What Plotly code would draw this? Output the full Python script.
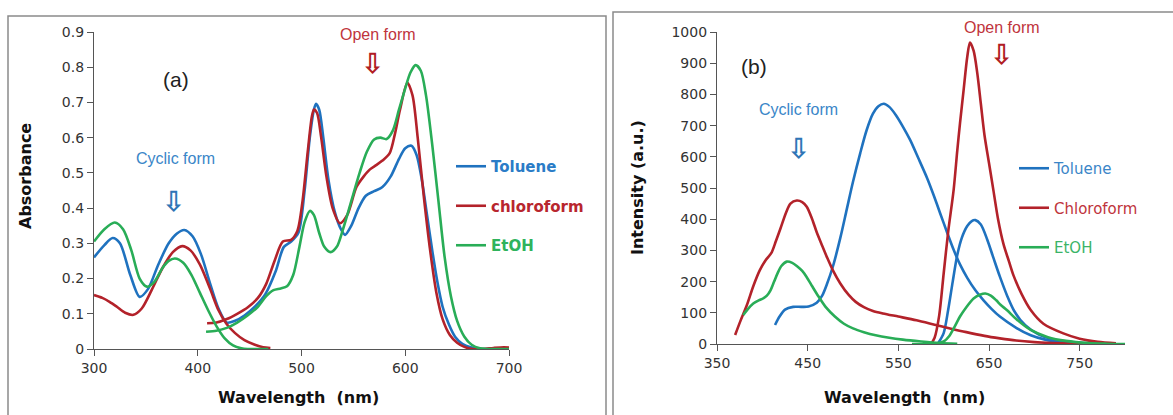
import plotly.graph_objects as go

# ---------------- Panel (a): absorbance ----------------
tol_a_x = [300,310,318,325,335,344,352,362,372,380,387,395,403,412,420,428,436,445,455,465,475,483,490,497,503,508,512,514,517,521,526,532,538,542,548,555,562,570,578,586,594,600,606,611,616,621,626,631,636,642,648,655,663,672,680,690,700]
tol_a_y = [0.26,0.295,0.315,0.30,0.21,0.148,0.17,0.24,0.30,0.328,0.338,0.32,0.27,0.185,0.115,0.075,0.08,0.095,0.12,0.155,0.22,0.29,0.305,0.33,0.45,0.60,0.68,0.696,0.68,0.60,0.48,0.39,0.34,0.324,0.35,0.40,0.435,0.448,0.46,0.49,0.54,0.57,0.577,0.55,0.48,0.38,0.28,0.19,0.12,0.07,0.035,0.015,0.005,0.0,0.0,0.002,0.0]

chl_uv_x = [300,308,315,322,330,338,346,356,366,376,385,393,402,412,420,428,436,445,455,463,470]
chl_uv_y = [0.153,0.145,0.134,0.12,0.103,0.097,0.115,0.17,0.23,0.275,0.292,0.28,0.24,0.17,0.11,0.07,0.045,0.025,0.012,0.005,0.003]
chl_vis_x = [409,418,428,438,448,458,466,474,482,490,496,501,506,510,512,515,519,524,530,537,544,553,560,566,572,578,585,590,595,602,607,612,618,624,630,636,643,650,657,665,675,685,695,700]
chl_vis_y = [0.073,0.075,0.085,0.10,0.118,0.145,0.185,0.25,0.305,0.31,0.335,0.42,0.56,0.66,0.68,0.67,0.60,0.49,0.40,0.357,0.38,0.46,0.49,0.51,0.522,0.535,0.556,0.61,0.68,0.756,0.72,0.60,0.43,0.28,0.16,0.085,0.04,0.018,0.006,0.0,0.0,0.003,0.005,0.004]

eth_uv_x = [300,310,320,328,336,344,351,358,366,372,378,386,394,402,410,418,426,434,442,448,460,468]
eth_uv_y = [0.305,0.34,0.359,0.34,0.28,0.20,0.177,0.19,0.23,0.25,0.257,0.245,0.21,0.16,0.11,0.065,0.03,0.01,0.002,0.0,0.0,0.0]
eth_vis_x = [408,418,428,438,448,458,466,473,480,486,492,498,503,508,512,517,522,528,534,540,548,556,563,570,576,582,588,594,600,605,610,615,620,626,632,638,644,650,657,664,672,680,690,700]
eth_vis_y = [0.049,0.052,0.06,0.075,0.095,0.12,0.15,0.167,0.172,0.178,0.21,0.29,0.36,0.392,0.38,0.33,0.29,0.275,0.29,0.34,0.42,0.50,0.56,0.595,0.60,0.596,0.62,0.68,0.74,0.785,0.806,0.79,0.72,0.58,0.42,0.26,0.15,0.08,0.035,0.012,0.002,0.0,0.0,0.0]

# ---------------- Panel (b): emission intensity ----------------
tol_b1_x = [414,419,425,434,443,451,460,466,471,478,486,493,500,508,515,522,528,534,540,547,555,563,572,582,589,596,604,611,618,626,635,644,653,662,680,696,712,730,750,770]
tol_b1_y = [61,88,110,119,119,120,132,155,190,250,340,430,520,612,685,738,762,770,760,735,697,654,596,530,477,420,356,302,255,212,172,140,112,88,52,28,14,6,2,0]
tol_b2_x = [594,600,605,610,615,620,626,631,635,641,648,655,662,670,678,690,705,720,740,760,780]
tol_b2_y = [3,35,110,200,285,340,378,394,397,383,335,275,216,155,105,60,30,15,6,2,0]

chl_b1_x = [370,376,383,390,397,404,410,415,420,426,431,438,444,449,455,460,466,471,478,486,495,503,512,522,533,550,570,590,607,625,645,662,680,700,720,740,760]
chl_b1_y = [29,75,125,185,235,270,292,330,370,420,450,460,455,440,400,358,315,280,235,194,158,135,118,106,98,88,76,62,50,38,26,18,11,6,3,1,0]
chl_b2_x = [586,590,595,600,605,611,615,618,622,626,629,633,637,641,645,650,655,660,666,672,677,686,696,710,732,750,770,790]
chl_b2_y = [0,20,90,226,360,494,620,707,814,920,966,940,870,770,670,580,490,400,320,265,220,160,109,65,34,17,7,2]

eth_b1_x = [379,384,390,396,401,405,409,413,417,421,427,433,438,444,449,455,462,470,480,490,500,512,525,540,555,575,595,615]
eth_b1_y = [93,112,130,140,146,155,172,200,228,250,264,260,250,234,214,185,152,118,88,65,50,38,28,20,14,8,3,1]
eth_b2_x = [565,590,600,606,612,618,625,633,640,646,652,658,663,670,680,696,715,735,760,780,800]
eth_b2_y = [0,0,8,25,55,88,118,146,158,162,155,140,125,108,80,45,22,10,3,1,0]

names_a = ["Toluene", "chloroform", "EtOH"]
names_b = ["Toluene", "Chloroform", "EtOH"]
colors = ["#1f72bf", "#b3222a", "#29ad57"]
text_colors_a = ["#2a7cc7", "#b8262e", "#2fb35c"]
text_colors_b = ["#3b86c8", "#c0343c", "#3bb467"]

W, H = 1173, 415
def px(x): return x / W
def py(y): return 1 - y / H

fig = go.Figure()
line_kw = dict(shape="spline", smoothing=0.8, width=2.6)

def add(x, y, i, xa, ya, legend, name, show, group):
    fig.add_trace(go.Scatter(
        x=x, y=y, mode="lines", xaxis=xa, yaxis=ya,
        line=dict(color=colors[i], **line_kw),
        name=name, showlegend=show, legend=legend, legendgroup=group,
        hoverinfo="skip"))

# panel a
add(tol_a_x, tol_a_y, 0, "x", "y", "legend",
    f"<b><span style='color:{text_colors_a[0]}'>{names_a[0]}</span></b>", True, "a0")
add(chl_uv_x, chl_uv_y, 1, "x", "y", "legend", names_a[1], False, "a1")
add(chl_vis_x, chl_vis_y, 1, "x", "y", "legend",
    f"<b><span style='color:{text_colors_a[1]}'>{names_a[1]}</span></b>", True, "a1")
add(eth_uv_x, eth_uv_y, 2, "x", "y", "legend", names_a[2], False, "a2")
add(eth_vis_x, eth_vis_y, 2, "x", "y", "legend",
    f"<b><span style='color:{text_colors_a[2]}'>{names_a[2]}</span></b>", True, "a2")

# panel b
add(tol_b1_x, tol_b1_y, 0, "x2", "y2", "legend2",
    f"<span style='color:{text_colors_b[0]}'>{names_b[0]}</span>", True, "b0")
add(tol_b2_x, tol_b2_y, 0, "x2", "y2", "legend2", names_b[0], False, "b0")
add(chl_b1_x, chl_b1_y, 1, "x2", "y2", "legend2",
    f"<span style='color:{text_colors_b[1]}'>{names_b[1]}</span>", True, "b1")
add(chl_b2_x, chl_b2_y, 1, "x2", "y2", "legend2", names_b[1], False, "b1")
add(eth_b1_x, eth_b1_y, 2, "x2", "y2", "legend2",
    f"<span style='color:{text_colors_b[2]}'>{names_b[2]}</span>", True, "b2")
add(eth_b2_x, eth_b2_y, 2, "x2", "y2", "legend2", names_b[2], False, "b2")

tick_font = dict(family="DejaVu Sans", size=14, color="#333333")
axis_common = dict(showline=True, linecolor="#555555", linewidth=1.3,
                   ticks="outside", ticklen=6, tickcolor="#555555",
                   showgrid=False, zeroline=False, tickfont=tick_font)

fig.update_layout(
    width=W, height=H,
    margin=dict(l=0, r=0, t=0, b=0, autoexpand=False),
    paper_bgcolor="white", plot_bgcolor="white",
    xaxis=dict(domain=[px(94), px(509)], range=[300, 700], tickvals=[300, 400, 500, 600, 700],
               anchor="y", **axis_common),
    yaxis=dict(domain=[py(349), py(32)], range=[0, 0.9], tickvals=[i / 10 for i in range(10)],
               ticktext=["0"] + [f"{i/10:.1f}" for i in range(1, 10)], anchor="x", **axis_common),
    xaxis2=dict(domain=[px(717), px(1125)], range=[350, 800], tickvals=[350, 450, 550, 650, 750],
                anchor="y2", **axis_common),
    yaxis2=dict(domain=[py(344), py(32)], range=[0, 1000], tickvals=list(range(0, 1001, 100)),
                anchor="x2", **axis_common),
    legend=dict(x=px(451), y=py(150), xanchor="left", yanchor="top",
                font=dict(family="DejaVu Sans", size=15), bgcolor="rgba(0,0,0,0)",
                tracegroupgap=17, itemwidth=30),
    legend2=dict(x=px(1014), y=py(152), xanchor="left", yanchor="top",
                 font=dict(family="DejaVu Sans", size=15), bgcolor="rgba(0,0,0,0)",
                 tracegroupgap=17, itemwidth=30),
    showlegend=True,
)

# panel borders
fig.add_shape(type="rect", xref="paper", yref="paper", x0=px(8), x1=px(606), y0=-0.05, y1=py(16),
              line=dict(color="#8a8a8a", width=1.5))
fig.add_shape(type="rect", xref="paper", yref="paper", x0=px(613), x1=1.05, y0=-0.05, y1=py(12),
              line=dict(color="#8a8a8a", width=1.5))

def ann(x, y, text, size, color, family="Liberation Sans", bold=False, angle=0):
    fig.add_annotation(x=px(x), y=py(y), xref="paper", yref="paper", text=f"<b>{text}</b>" if bold else text,
                       showarrow=False, textangle=angle, xanchor="center", yanchor="middle",
                       font=dict(family=family, size=size, color=color))

# axis titles
ann(25, 176, "Absorbance", 16, "#111111", family="DejaVu Sans", bold=True, angle=-90)
ann(298, 397, "Wavelength  (nm)", 16, "#111111", family="DejaVu Sans", bold=True)
ann(637, 188, "Intensity (a.u.)", 16, "#111111", family="DejaVu Sans", bold=True, angle=-90)
ann(904, 397, "Wavelength  (nm)", 16, "#111111", family="DejaVu Sans", bold=True)

# panel labels
ann(176, 80, "(a)", 21, "#222222", family="Liberation Sans")
ann(754, 66, "(b)", 21, "#222222", family="Liberation Sans")

# form labels and arrows
ann(175, 158, "Cyclic form", 16, "#3a86c8")
ann(173, 201, "⇩", 28, "#2e75b6", family="DejaVu Sans", bold=True)
ann(378, 35, "Open form", 16, "#c0343c")
ann(372, 63, "⇩", 28, "#b01c24", family="DejaVu Sans", bold=True)
ann(798, 110, "Cyclic form", 16, "#3a86c8")
ann(798, 148, "⇩", 28, "#2e75b6", family="DejaVu Sans", bold=True)
ann(1002, 27, "Open form", 16, "#c0343c")
ann(1001, 55, "⇩", 28, "#b01c24", family="DejaVu Sans", bold=True)

fig.write_html("out.html")
